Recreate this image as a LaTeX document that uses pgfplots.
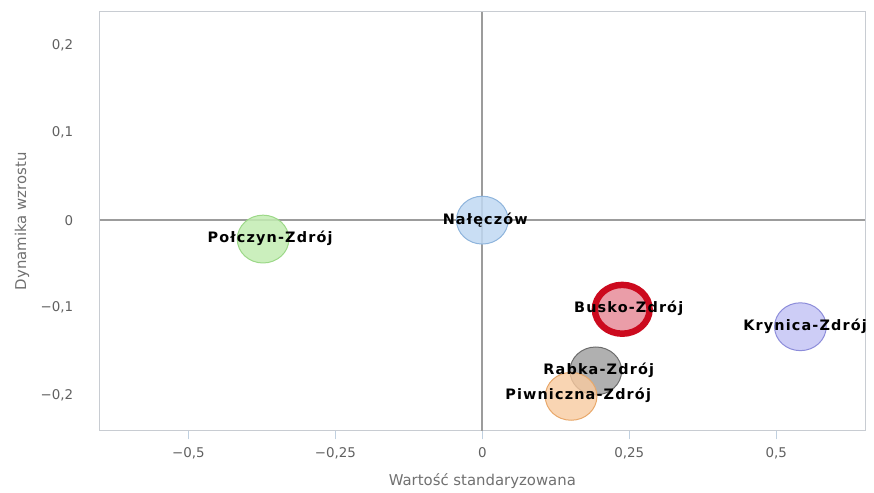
\documentclass[border=0pt]{standalone}
\usepackage{pgfplots}
\pgfplotsset{compat=1.18}
\usepackage{fontspec}
\setmainfont{DejaVu Sans}
\newfontfamily\lblfont[LetterSpace=8]{DejaVu Sans Bold}

\definecolor{tickgray}{HTML}{606060}
\definecolor{labelgray}{HTML}{707070}
\definecolor{framegray}{HTML}{C8CCD2}
\definecolor{tickblue}{HTML}{C0D0E0}
\definecolor{zerogray}{HTML}{9C9C9C}
\definecolor{gfill}{HTML}{C2ECB2}
\definecolor{gdraw}{HTML}{9CD888}
\definecolor{bfill}{HTML}{C0D8F2}
\definecolor{bdraw}{HTML}{8EB4DC}
\definecolor{rfill}{HTML}{E8929E}
\definecolor{rdraw}{HTML}{CC0A1E}
\definecolor{kfill}{HTML}{A2A2A2}
\definecolor{kdraw}{HTML}{6C6C6C}
\definecolor{ofill}{HTML}{F8CAA0}
\definecolor{odraw}{HTML}{E8A86A}
\definecolor{vfill}{HTML}{C4C4F4}
\definecolor{vdraw}{HTML}{8C8CDA}

\pgfplotstableread{
x      y       label
-0.361 -0.0205 Połczyn-Zdrój
0.005  0.000   Nałęczów
0.249  -0.101  Busko-Zdrój
0.549  -0.1215 Krynica-Zdrój
0.198  -0.171  Rabka-Zdrój
0.163  -0.1995 Piwniczna-Zdrój
}\labels

\begin{document}
\begin{tikzpicture}
\begin{axis}[
  scale only axis, width=768bp, height=420bp,
  xmin=-0.651, xmax=0.651, ymin=-0.24, ymax=0.2375,
  clip=false,
  xtick={-0.5,-0.25,0,0.25,0.5},
  xticklabels={{−0,5},{−0,25},0,{0,25},{0,5}},
  ytick={-0.2,-0.1,0,0.1,0.2},
  yticklabels={{−0,2},{−0,1},0,{0,1},{0,2}},
  tick label style={font=\fontsize{13.5}{16}\selectfont, text=tickgray},
  yticklabel style={xshift=-14bp},
  xticklabel style={yshift=-5bp},
  axis line style={draw=framegray, line width=1bp},
  tick align=outside,
  xtick pos=bottom,
  ytick style={draw=none},
  xtick style={draw=tickblue, line width=1bp},
  major tick length=9bp,
  extra x ticks={0}, extra x tick labels={},
  extra y ticks={0}, extra y tick labels={},
  extra tick style={grid=major, major grid style={draw=zerogray, line width=2bp}, tick style={draw=zerogray, line width=2bp}},
  xlabel={Wartość standaryzowana},
  ylabel={Dynamika wzrostu},
  label style={font=\fontsize{15}{18}\selectfont, text=labelgray},
  x label style={at={(axis description cs:0.5,-0.1214)}, anchor=center},
  y label style={at={(axis description cs:-0.1016,0.5)}, anchor=center},
]
% Połczyn-Zdrój
\addplot[only marks, mark=*, mark size=24bp,
  mark options={xscale=1.08, fill=gfill, draw=gdraw, line width=1bp, fill opacity=0.85}]
  coordinates {(-0.373,-0.0216)};
% Nałęczów
\addplot[only marks, mark=*, mark size=24bp,
  mark options={xscale=1.08, fill=bfill, draw=bdraw, line width=1bp, fill opacity=0.85}]
  coordinates {(0,0)};
% Busko-Zdrój
\addplot[only marks, mark=*, mark size=24.5bp,
  mark options={xscale=1.12, fill=rfill, draw=rdraw, line width=6.5bp, fill opacity=0.9}]
  coordinates {(0.238,-0.1017)};
% Krynica-Zdrój
\addplot[only marks, mark=*, mark size=24bp,
  mark options={xscale=1.08, fill=vfill, draw=vdraw, line width=1bp, fill opacity=0.85}]
  coordinates {(0.541,-0.1216)};
% Rabka-Zdrój
\addplot[only marks, mark=*, mark size=24bp,
  mark options={xscale=1.08, fill=kfill, draw=kdraw, line width=1bp, fill opacity=0.85}]
  coordinates {(0.193,-0.172)};
% Piwniczna-Zdrój
\addplot[only marks, mark=*, mark size=24bp,
  mark options={xscale=1.08, fill=ofill, draw=odraw, line width=1bp, fill opacity=0.8}]
  coordinates {(0.151,-0.201)};
% labels on top
\addplot[only marks, mark=none, nodes near coords, point meta=explicit symbolic,
  nodes near coords style={anchor=center, inner sep=0pt, font=\lblfont\fontsize{14.5}{17}\selectfont, text=black}]
  table[x=x, y=y, meta=label] {\labels};
\end{axis}
\path (current axis.south west) ++(-100bp,-62bp);
\path (current axis.north east) ++(6bp,12bp);
\end{tikzpicture}
\end{document}
